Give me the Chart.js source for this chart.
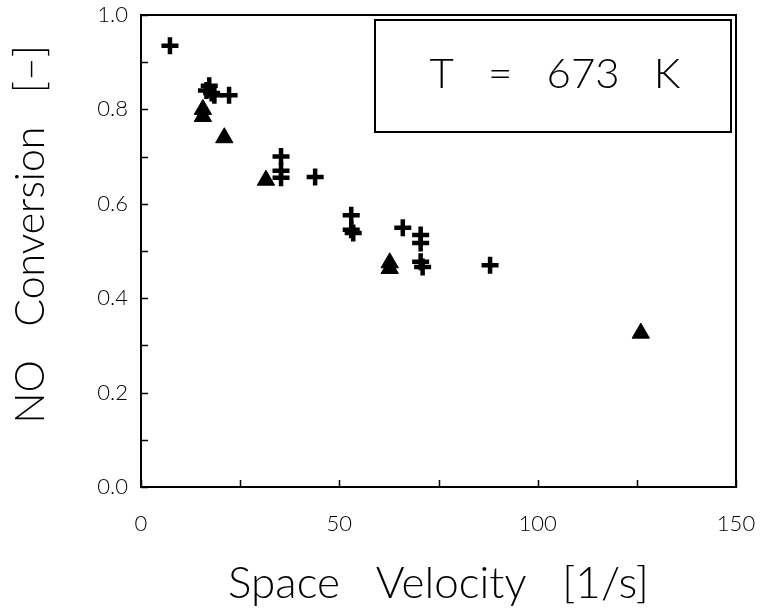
<!DOCTYPE html>
<html>
<head>
<meta charset="utf-8">
<script src="https://cdn.jsdelivr.net/npm/chart.js@4"></script>
<style>
  html, body { margin: 0; padding: 0; background: #fff; }
  #wrap { width: 761px; height: 610px; }
</style>
</head>
<body>
<div id="wrap"><canvas id="noChart" width="761" height="610"></canvas></div>
<script>
// Values
const plusX = [7.3, 16.5, 17.2, 17.8, 18.5, 22.2, 35.3, 35.3, 35.3, 43.9, 53.0, 53.0, 53.5, 66.0, 70.5, 70.5, 70.5, 71.0, 88.0];
const plusY = [0.935, 0.840, 0.850, 0.835, 0.830, 0.830, 0.700, 0.670, 0.655, 0.657, 0.576, 0.545, 0.538, 0.549, 0.534, 0.517, 0.477, 0.466, 0.470];
const triX = [15.6, 15.6, 21.0, 31.5, 62.7, 62.7, 126.0];
const triY = [0.800, 0.785, 0.740, 0.650, 0.475, 0.463, 0.326];
const xTicks = [0, 50, 100, 150];
const yTicks = [0.0, 0.2, 0.4, 0.6, 0.8, 1.0];
const xMinor = [25, 75, 125];
const yMinor = [0.1, 0.3, 0.5, 0.7, 0.9];
const annotationText = 'T   =   673   K';

const FONT = "Lato, 'DejaVu Sans', sans-serif";

function toPoints(xs, ys) {
    return xs.map((x, i) => ({ x: x, y: ys[i] }));
}

// frame, inward ticks and the temperature box
const framePlugin = {
    id: 'frame',
    afterDraw: function(chart) {
        const ctx = chart.ctx;
        const a = chart.chartArea;
        const xs = chart.scales.x;
        const ys = chart.scales.y;
        ctx.save();
        ctx.strokeStyle = '#000';
        ctx.lineWidth = 2;
        ctx.strokeRect(a.left, a.top, a.right - a.left, a.bottom - a.top);

        ctx.lineWidth = 1.5;
        ctx.beginPath();
        xTicks.concat(xMinor).forEach(v => {
            const px = Math.round(xs.getPixelForValue(v)) + 0.5;
            ctx.moveTo(px, a.bottom);
            ctx.lineTo(px, a.bottom - 7);
        });
        yTicks.concat(yMinor).forEach(v => {
            const py = Math.round(ys.getPixelForValue(v)) + 0.5;
            ctx.moveTo(a.left, py);
            ctx.lineTo(a.left + 7, py);
        });
        ctx.stroke();

        // annotation box
        const bx = 375, by = 20, bw = 356, bh = 112;
        ctx.lineWidth = 2;
        ctx.strokeRect(bx, by, bw, bh);
        ctx.fillStyle = '#000';
        ctx.font = '300 42px ' + FONT;
        ctx.textAlign = 'center';
        ctx.textBaseline = 'middle';
        ctx.fillText(annotationText, bx + bw / 2 + 2, by + bh / 2 - 2);
        ctx.restore();
    }
};

const ctx = document.getElementById('noChart').getContext('2d');
new Chart(ctx, {
    type: 'scatter',
    data: {
        datasets: [{
            label: 'plus',
            data: toPoints(plusX, plusY),
            pointStyle: 'cross',
            pointRadius: 8.5,
            borderColor: '#000',
            borderWidth: 4.5,
            backgroundColor: '#000'
        }, {
            label: 'triangle',
            data: toPoints(triX, triY),
            pointStyle: 'triangle',
            pointRadius: 10,
            borderColor: '#000',
            borderWidth: 1,
            backgroundColor: '#000'
        }]
    },
    options: {
        responsive: false,
        animation: false,
        layout: {
            padding: { left: 0, top: 15, right: 25, bottom: 0 }
        },
        plugins: {
            legend: { display: false },
            tooltip: { enabled: false }
        },
        scales: {
            x: {
                type: 'linear',
                min: 0,
                max: 150,
                afterFit: function(scale) {
                    scale.height = 123;
                    scale.paddingLeft = 0;
                    scale.paddingRight = 0;
                },
                afterBuildTicks: function(scale) {
                    scale.ticks = xTicks.map(v => ({ value: v }));
                },
                grid: { display: false, drawTicks: false },
                border: { display: false },
                ticks: {
                    padding: 24,
                    color: '#000',
                    font: { size: 22, family: FONT, weight: '300' },
                    callback: v => String(v)
                },
                title: {
                    display: true,
                    text: 'Space   Velocity   [1/s]',
                    color: '#000',
                    font: { size: 44, family: FONT, weight: '300' },
                    padding: { top: 0, bottom: 0 }
                }
            },
            y: {
                type: 'linear',
                min: 0,
                max: 1,
                afterFit: function(scale) {
                    scale.width = 141;
                    scale.paddingTop = 0;
                    scale.paddingBottom = 0;
                },
                afterBuildTicks: function(scale) {
                    scale.ticks = yTicks.map(v => ({ value: v }));
                },
                grid: { display: false, drawTicks: false },
                border: { display: false },
                ticks: {
                    padding: 13,
                    color: '#000',
                    font: { size: 22, family: FONT, weight: '300' },
                    callback: v => Number(v).toFixed(1)
                },
                title: {
                    display: true,
                    text: '   NO   Conversion   [\u2013]',
                    color: '#000',
                    font: { size: 41, family: FONT, weight: '300' },
                    padding: { top: 6, bottom: 0 }
                }
            }
        }
    },
    plugins: [framePlugin]
});
</script>
</body>
</html>
